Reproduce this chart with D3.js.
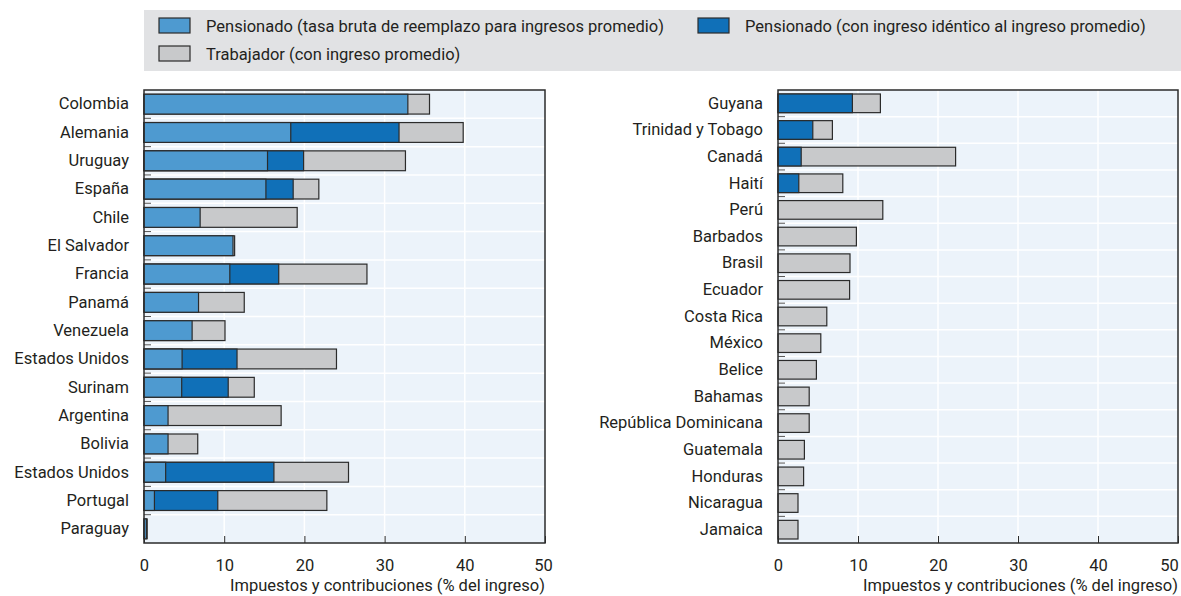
<!DOCTYPE html>
<html>
<head>
<meta charset="utf-8">
<script src="https://cdn.jsdelivr.net/npm/d3@7"></script>
<style>
  body { margin: 0; background: #fff; }
  svg text { font-family: Roboto, "Liberation Sans", sans-serif; fill: #231f20; }
</style>
</head>
<body>
<div id="chart-area"></div>
<script>
// left panel data (% of income)
const leftCountries = ["Colombia", "Alemania", "Uruguay", "España", "Chile", "El Salvador", "Francia",
  "Panamá", "Venezuela", "Estados Unidos", "Surinam", "Argentina", "Bolivia", "Estados Unidos",
  "Portugal", "Paraguay"];
const leftPensionTasa = [32.9, 18.3, 15.4, 15.2, 7.0, 11.1, 10.7, 6.8, 6.0, 4.75, 4.7, 3.0, 3.0, 2.7, 1.3, 0.3];
const leftPensionIdentico = [null, 31.8, 19.9, 18.6, null, null, 16.8, null, null, 11.6, 10.5, null, null, 16.2, 9.2, null];
const leftTrabajador = [35.6, 39.8, 32.6, 21.8, 19.1, 11.3, 27.8, 12.5, 10.1, 24.0, 13.75, 17.1, 6.7, 25.5, 22.8, 0.4];

// right panel data
const rightCountries = ["Guyana", "Trinidad y Tobago", "Canadá", "Haití", "Perú", "Barbados", "Brasil",
  "Ecuador", "Costa Rica", "México", "Belice", "Bahamas", "República Dominicana", "Guatemala",
  "Honduras", "Nicaragua", "Jamaica"];
const rightPensionTasa = [null, null, null, null, null, null, null, null, null, null, null, null, null, null, null, null, null];
const rightPensionIdentico = [9.3, 4.35, 2.9, 2.6, null, null, null, null, null, null, null, null, null, null, null, null, null];
const rightTrabajador = [12.8, 6.8, 22.2, 8.1, 13.1, 9.8, 9.0, 8.95, 6.1, 5.35, 4.8, 3.9, 3.9, 3.3, 3.2, 2.5, 2.5];

const xTicks = [0, 10, 20, 30, 40, 50];
const axisTitle = "Impuestos y contribuciones (% del ingreso)";
const legendLabels = [
  "Pensionado (tasa bruta de reemplazo para ingresos promedio)",
  "Pensionado (con ingreso idéntico al ingreso promedio)",
  "Trabajador (con ingreso promedio)"
];

const colLight = "#4e9ad0", colDark = "#1070b8", colGray = "#c8c9cb", colStroke = "#2b2b2b";
const fontSize = 16.5;

const svg = d3.select("#chart-area")
  .append("svg")
    .attr("width", 1181)
    .attr("height", 596);

// legend
const legend = svg.append("g");
legend.append("rect")
  .attr("x", 144).attr("y", 10).attr("width", 1037).attr("height", 61)
  .attr("fill", "#e1e2e4");
const legendPos = [[159, 18], [698, 18], [159, 46]];
const legendCols = [colLight, colDark, colGray];
legendLabels.forEach((lab, i) => {
  legend.append("rect")
    .attr("x", legendPos[i][0]).attr("y", legendPos[i][1])
    .attr("width", 31).attr("height", 15)
    .attr("fill", legendCols[i]).attr("stroke", colStroke).attr("stroke-width", 1.2);
  legend.append("text")
    .attr("x", legendPos[i][0] + 47).attr("y", legendPos[i][1] + 8)
    .attr("dy", "0.35em")
    .style("font-size", fontSize + "px")
    .text(lab);
});

function drawPanel(left, right, top, bottom, countries, tasa, ident, trab, lastDx) {
  const g = svg.append("g");
  const x = d3.scaleLinear().domain([0, 50]).range([left, right]);
  const y = d3.scaleBand()
    .domain(countries.map((d, i) => i))
    .range([top, bottom])
    .paddingInner(0.3)
    .paddingOuter(0.15);
  const step = y.step();

  g.append("rect")
    .attr("x", left).attr("y", top).attr("width", right - left).attr("height", bottom - top)
    .attr("fill", "#ecf3fa");

  // grid
  g.selectAll(".vgrid").data(xTicks.slice(1, -1)).enter().append("line")
    .attr("x1", d => x(d)).attr("x2", d => x(d))
    .attr("y1", top).attr("y2", bottom)
    .attr("stroke", "#fff").attr("stroke-width", 1.5);
  const bounds = countries.map((d, i) => i).slice(1);
  g.selectAll(".hgrid").data(bounds).enter().append("line")
    .attr("x1", left).attr("x2", right)
    .attr("y1", d => top + d * step).attr("y2", d => top + d * step)
    .attr("stroke", "#fff").attr("stroke-width", 1.5);

  // bars: worker first, then pensioners on top
  const layers = [[trab, colGray], [ident, colDark], [tasa, colLight]];
  layers.forEach(([vals, col]) => {
    g.selectAll(null).data(vals.map((v, i) => ({v: v, i: i})).filter(d => d.v != null))
      .enter().append("rect")
        .attr("x", x(0))
        .attr("y", d => y(d.i))
        .attr("width", d => x(d.v) - x(0))
        .attr("height", y.bandwidth())
        .attr("fill", col)
        .attr("stroke", colStroke)
        .attr("stroke-width", 1.2);
  });

  // row ticks on the left
  g.selectAll(".rtick").data(bounds).enter().append("line")
    .attr("x1", left).attr("x2", left + 7)
    .attr("y1", d => top + d * step).attr("y2", d => top + d * step)
    .attr("stroke", "#555").attr("stroke-width", 1);

  // frame
  g.append("rect")
    .attr("x", left).attr("y", top).attr("width", right - left).attr("height", bottom - top)
    .attr("fill", "none").attr("stroke", colStroke).attr("stroke-width", 1.5);

  // category labels
  const yAxis = g.append("g")
    .attr("transform", `translate(${left},0)`)
    .call(d3.axisLeft(y).tickSize(0).tickPadding(15).tickFormat(i => countries[i]));
  yAxis.select(".domain").remove();
  yAxis.selectAll("text").style("font-size", fontSize + "px").style("font-family", null);

  // x axis: inward ticks
  const xAxis = g.append("g")
    .attr("transform", `translate(0,${bottom})`)
    .call(d3.axisBottom(x).tickValues(xTicks).tickSizeInner(-7).tickSizeOuter(0).tickPadding(16));
  xAxis.select(".domain").remove();
  xAxis.selectAll("line").attr("stroke", colStroke);
  xAxis.selectAll("text").style("font-size", fontSize + "px").style("font-family", null);
  xAxis.selectAll("text").filter(d => d === 50).attr("dx", lastDx);

  g.append("text")
    .attr("x", right).attr("y", bottom + 42)
    .attr("text-anchor", "end")
    .attr("dy", "0.35em")
    .style("font-size", fontSize + "px")
    .text(axisTitle);
}

drawPanel(144, 545, 90, 543, leftCountries, leftPensionTasa, leftPensionIdentico, leftTrabajador, -2);
drawPanel(778, 1178, 90, 543, rightCountries, rightPensionTasa, rightPensionIdentico, rightTrabajador, -9);
</script>
</body>
</html>
